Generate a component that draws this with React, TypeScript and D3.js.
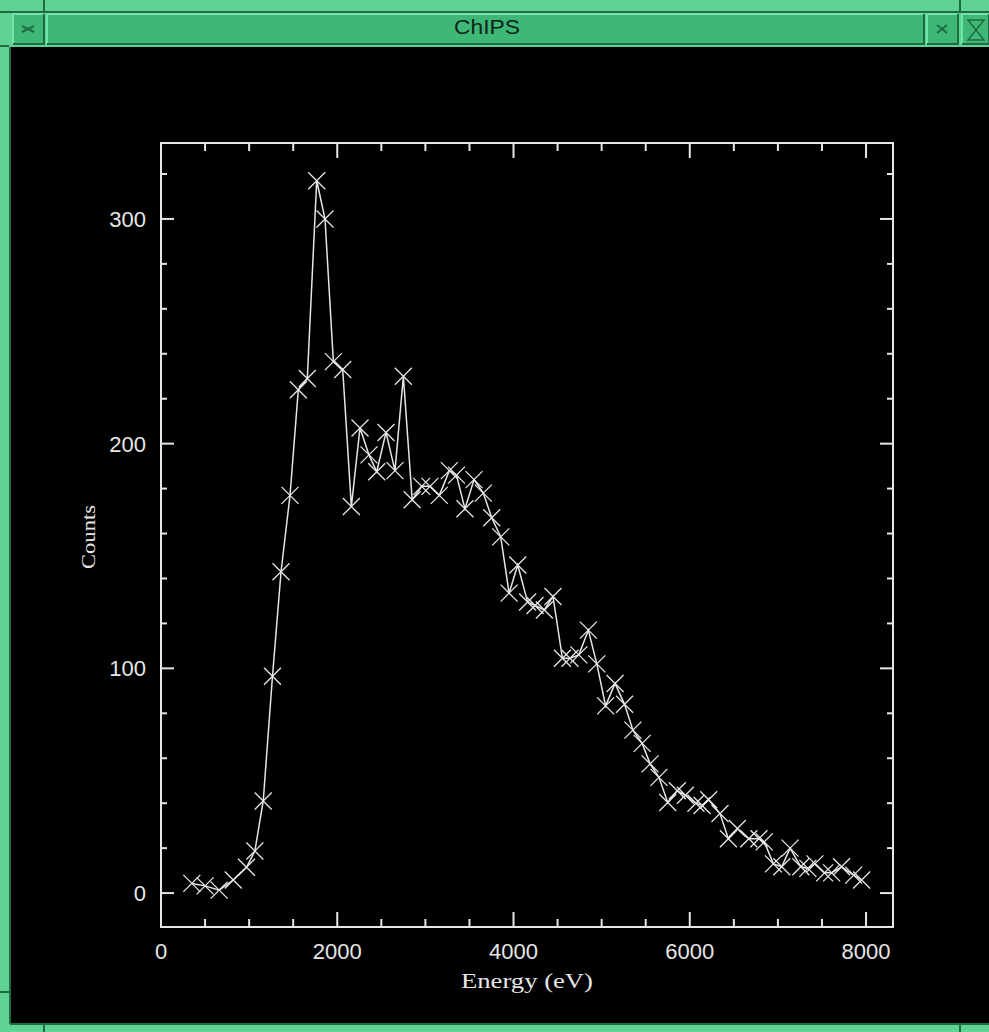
import { useEffect, useRef } from 'react';
import * as d3 from 'd3';

// spectrum
const energy = [
  350, 500, 660, 820, 970, 1065, 1160, 1265, 1362, 1464, 1558, 1660, 1767, 1861, 1956,
  2062, 2160, 2258, 2360, 2448, 2553, 2655, 2750, 2850, 2958, 3052, 3158, 3272, 3353, 3449,
  3552, 3657, 3753, 3855, 3950, 4048, 4160, 4244, 4350, 4448, 4555, 4641, 4741, 4849, 4945,
  5045, 5152, 5260, 5355, 5460, 5550, 5650, 5750, 5859, 5950, 6070, 6140, 6215, 6343, 6438,
  6540, 6670, 6785, 6845, 6949, 7044, 7138, 7260, 7340, 7420, 7530, 7610, 7722, 7860, 7950,
];
const counts = [
  4.3, 3.2, 1.3, 5.8, 11.5, 18.7, 41, 96.5, 143, 177, 224, 229, 317, 300, 236.5,
  233, 172, 207, 195, 187.5, 205, 188, 230, 175, 181, 181, 177, 188, 186, 171,
  184, 178, 167, 158.5, 133.5, 146, 129.5, 128, 126, 132, 104.5, 104.5, 106, 117, 102,
  83.3, 93.3, 84, 72.5, 66.6, 57.5, 51.5, 40.3, 45.5, 43.5, 40, 39, 41.5, 35.4, 24.2,
  28.7, 24.2, 24.2, 22.8, 13, 11.7, 20, 11.7, 11, 13, 9, 9, 11.7, 8, 5.8,
];
const xMajorTicks = [0, 2000, 4000, 6000, 8000];
const xMinorTicks = [500, 1000, 1500, 2500, 3000, 3500, 4500, 5000, 5500, 6500, 7000, 7500];
const yMajorTicks = [0, 100, 200, 300];
const yMinorTicks = [20, 40, 60, 80, 120, 140, 160, 180, 220, 240, 260, 280, 320];

const W = 989;
const H = 1032;
const GREEN = '#3fb877';
const LIGHT = '#72e3a6';
const DARK = '#1f6b43';
const FG = '#e6e6e6';

function bevel(g, x, y, w, h) {
  g.append('rect').attr('x', x).attr('y', y).attr('width', w).attr('height', h).attr('fill', GREEN);
  g.append('path')
    .attr('d', `M${x},${y + h} L${x},${y} L${x + w},${y}`)
    .attr('fill', 'none')
    .attr('stroke', LIGHT)
    .attr('stroke-width', 2);
  g.append('path')
    .attr('d', `M${x},${y + h} L${x + w},${y + h} L${x + w},${y}`)
    .attr('fill', 'none')
    .attr('stroke', DARK)
    .attr('stroke-width', 2);
}

function ChipsWindow() {
  const svgRef = useRef(null);

  const draw = () => {
    const svg = d3.select(svgRef.current);
    svg.selectAll('*').remove();

    // window chrome
    const chrome = svg.append('g');
    chrome.append('rect').attr('width', W).attr('height', H).attr('fill', '#5fd394');
    chrome.append('rect').attr('x', 10).attr('y', 47).attr('width', W - 10).attr('height', 977).attr('fill', '#000');
    chrome.append('line').attr('x1', 10).attr('x2', 10).attr('y1', 47).attr('y2', 1024).attr('stroke', DARK).attr('stroke-width', 2);
    chrome.append('line').attr('x1', 10).attr('x2', W).attr('y1', 1024).attr('y2', 1024).attr('stroke', DARK).attr('stroke-width', 2);
    chrome.append('line').attr('x1', 0).attr('x2', W).attr('y1', 12).attr('y2', 12).attr('stroke', DARK).attr('stroke-width', 2);
    [44, 960].forEach((nx) => {
      chrome.append('line').attr('x1', nx).attr('x2', nx).attr('y1', 0).attr('y2', 11).attr('stroke', DARK).attr('stroke-width', 2);
      chrome.append('line').attr('x1', nx).attr('x2', nx).attr('y1', 1025).attr('y2', H).attr('stroke', DARK).attr('stroke-width', 2);
    });
    chrome.append('line').attr('x1', 0).attr('x2', 9).attr('y1', 992).attr('y2', 992).attr('stroke', DARK).attr('stroke-width', 2);
    chrome.append('line').attr('x1', 0).attr('x2', 9).attr('y1', 46).attr('y2', 46).attr('stroke', DARK).attr('stroke-width', 2);

    bevel(chrome, 13, 14, 31, 30);
    bevel(chrome, 47, 14, 877, 30);
    bevel(chrome, 927, 14, 31, 30);
    bevel(chrome, 962, 14, 27, 30);

    chrome.append('path').attr('d', 'M22,26 L34,32 M22,32 L34,26').attr('stroke', DARK).attr('stroke-width', 2).attr('fill', 'none');
    chrome.append('path').attr('d', 'M937,25 L947,33 M937,33 L947,25').attr('stroke', DARK).attr('stroke-width', 2).attr('fill', 'none');
    chrome.append('path').attr('d', 'M968,20 L984,20 L968,40 L984,40 Z').attr('stroke', DARK).attr('stroke-width', 1.5).attr('fill', 'none');

    chrome.append('text')
      .attr('x', 487)
      .attr('y', 34)
      .attr('text-anchor', 'middle')
      .attr('font-family', 'Liberation Sans, Arial, sans-serif')
      .attr('font-size', 21)
      .attr('textLength', 66)
      .attr('lengthAdjust', 'spacingAndGlyphs')
      .attr('fill', '#0d2417')
      .text('ChIPS');

    // plot
    const x = d3.scaleLinear().domain([0, 8306]).range([161, 893]);
    const y = d3.scaleLinear().domain([-15.1, 333.8]).range([927, 143]);
    const [x0, x1] = x.range();
    const [y0, y1] = y.range();

    const plot = svg.append('g');

    plot.append('rect')
      .attr('x', x0)
      .attr('y', y1)
      .attr('width', x1 - x0)
      .attr('height', y0 - y1)
      .attr('fill', 'none')
      .attr('stroke', FG)
      .attr('stroke-width', 2);

    const xTicks = [
      ...xMajorTicks.map((v) => ({ v, len: 15 })),
      ...xMinorTicks.map((v) => ({ v, len: 8 })),
    ];
    const yTicks = [
      ...yMajorTicks.map((v) => ({ v, len: 13 })),
      ...yMinorTicks.map((v) => ({ v, len: 6 })),
    ];

    plot.selectAll('.xb').data(xTicks).join('line')
      .attr('x1', (d) => x(d.v)).attr('x2', (d) => x(d.v))
      .attr('y1', y0).attr('y2', (d) => y0 - d.len)
      .attr('stroke', FG).attr('stroke-width', 2);
    plot.selectAll('.xt').data(xTicks).join('line')
      .attr('x1', (d) => x(d.v)).attr('x2', (d) => x(d.v))
      .attr('y1', y1).attr('y2', (d) => y1 + d.len)
      .attr('stroke', FG).attr('stroke-width', 2);
    plot.selectAll('.yl').data(yTicks).join('line')
      .attr('x1', x0).attr('x2', (d) => x0 + d.len)
      .attr('y1', (d) => y(d.v)).attr('y2', (d) => y(d.v))
      .attr('stroke', FG).attr('stroke-width', 2);
    plot.selectAll('.yr').data(yTicks).join('line')
      .attr('x1', x1).attr('x2', (d) => x1 - d.len)
      .attr('y1', (d) => y(d.v)).attr('y2', (d) => y(d.v))
      .attr('stroke', FG).attr('stroke-width', 2);

    plot.selectAll('.xlab').data(xMajorTicks).join('text')
      .attr('x', (d) => x(d))
      .attr('y', 959)
      .attr('text-anchor', 'middle')
      .attr('font-family', 'Liberation Sans, Arial, sans-serif')
      .attr('font-size', 22)
      .attr('fill', FG)
      .text((d) => d);

    plot.selectAll('.ylab').data(yMajorTicks).join('text')
      .attr('x', 146)
      .attr('y', (d) => y(d) + 8)
      .attr('text-anchor', 'end')
      .attr('font-family', 'Liberation Sans, Arial, sans-serif')
      .attr('font-size', 22)
      .attr('fill', FG)
      .text((d) => d);

    plot.append('text')
      .attr('x', 527)
      .attr('y', 988)
      .attr('text-anchor', 'middle')
      .attr('font-family', 'Liberation Serif, Times New Roman, serif')
      .attr('font-size', 22)
      .attr('textLength', 132)
      .attr('lengthAdjust', 'spacingAndGlyphs')
      .attr('fill', FG)
      .text('Energy (eV)');

    plot.append('text')
      .attr('transform', 'translate(95,537) rotate(-90)')
      .attr('text-anchor', 'middle')
      .attr('font-family', 'Liberation Serif, Times New Roman, serif')
      .attr('font-size', 18)
      .attr('textLength', 64)
      .attr('lengthAdjust', 'spacingAndGlyphs')
      .attr('fill', FG)
      .text('Counts');

    const points = energy.map((e, i) => ({ e, c: counts[i] }));

    const valueLine = d3
      .line()
      .x((d) => x(d.e))
      .y((d) => y(d.c));

    plot.append('path')
      .datum(points)
      .attr('fill', 'none')
      .attr('stroke', FG)
      .attr('stroke-width', 1.5)
      .attr('d', valueLine);

    const s = 8.5;
    plot.selectAll('.mark').data(points).join('path')
      .attr('d', (d) => {
        const px = x(d.e);
        const py = y(d.c);
        return `M${px - s},${py - s}L${px + s},${py + s}M${px - s},${py + s}L${px + s},${py - s}`;
      })
      .attr('stroke', FG)
      .attr('stroke-width', 1.3)
      .attr('fill', 'none');
  };

  useEffect(() => {
    draw();
  }, []);

  return (
    <svg
      ref={svgRef}
      width={W}
      height={H}
      style={{ position: 'absolute', left: 0, top: 0, display: 'block' }}
    />
  );
}

export default function App() {
  return <ChipsWindow />;
}
